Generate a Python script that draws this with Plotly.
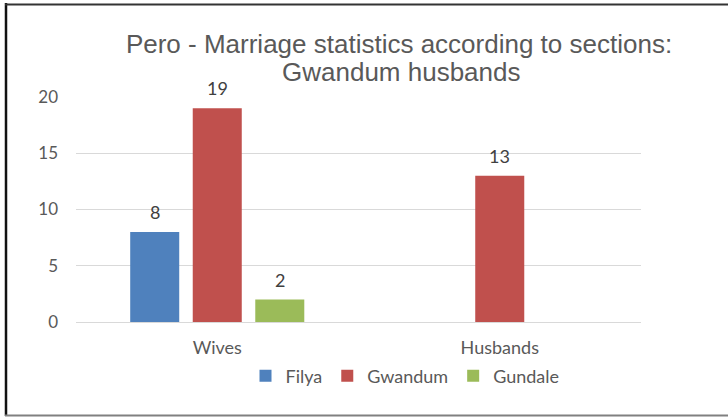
import plotly.graph_objects as go

# Marriage statistics for Pero, split by section
categories = ["Wives", "Husbands"]
series_names = ["Filya", "Gwandum", "Gundale"]
filya = [8, None]
gwandum = [19, 13]
gundale = [2, None]
series_values = [filya, gwandum, gundale]
series_colors = ["#4F81BD", "#C0504D", "#9BBB59"]
y_ticks = [0, 5, 10, 15, 20]

W, H = 728, 417
# plot area in pixels
PL, PR, PT, PB = 76, 641, 97, 322
BARGAP, BARGROUPGAP = 0.336, 0.216

def px_x(px):
    return (px - PL) / (PR - PL)

def px_y(py):
    return (PB - py) / (PB - PT)

fig = go.Figure()
for name, vals, col in zip(series_names, series_values, series_colors):
    fig.add_trace(go.Bar(
        name=name,
        x=categories,
        y=vals,
        marker=dict(color=col, line=dict(width=0)),
    ))

# value labels above each bar, offset to the bar's slot within its group
cat_px = (PR - PL) / len(categories)
slot_px = cat_px * (1 - BARGAP) / len(series_names)
label_font = dict(family="Lato", size=18, color="#404040")
annotations = []
for i, vals in enumerate(series_values):
    shift = (i - (len(series_names) - 1) / 2) * slot_px
    for cat, v in zip(categories, vals):
        if v is None:
            continue
        annotations.append(dict(
            x=cat, y=v, xref="x", yref="y",
            text=str(v), showarrow=False,
            xanchor="center", yanchor="middle",
            xshift=shift, yshift=20,
            font=label_font,
        ))

# second title line
annotations.append(dict(
    text="Gwandum husbands",
    xref="paper", yref="paper",
    x=px_x(401), y=px_y(72),
    xanchor="center", yanchor="middle",
    showarrow=False,
    font=dict(family="Liberation Sans", size=26, color="#595959"),
))

fig.update_layout(
    width=W, height=H,
    margin=dict(l=PL, r=W - PR, t=PT, b=H - PB, pad=0),
    paper_bgcolor="white",
    plot_bgcolor="white",
    barmode="group",
    bargap=BARGAP,
    bargroupgap=BARGROUPGAP,
    title=dict(
        text="Pero - Marriage statistics according to sections:",
        x=399 / W, xref="container", xanchor="center",
        y=1 - 44 / H, yref="container", yanchor="middle",
        font=dict(family="Liberation Sans", size=26, color="#595959"),
    ),
    annotations=annotations,
    showlegend=True,
    legend=dict(
        orientation="h",
        x=px_x(405), xanchor="center",
        y=px_y(376), yanchor="middle",
        font=dict(family="Lato", size=18, color="#595959"),
        itemwidth=30,
        bgcolor="rgba(0,0,0,0)",
    ),
    xaxis=dict(
        showgrid=False,
        showline=False,
        zeroline=False,
        ticks="",
        tickfont=dict(family="Lato", size=18, color="#595959"),
        ticklabelstandoff=13,
    ),
    yaxis=dict(
        range=[0, 20],
        tickvals=y_ticks,
        showgrid=True,
        gridcolor="#D9D9D9",
        gridwidth=1,
        zeroline=True,
        zerolinecolor="#D9D9D9",
        zerolinewidth=1,
        showline=False,
        ticks="",
        tickfont=dict(family="Lato", size=17, color="#595959"),
        ticklabelstandoff=17,
    ),
    shapes=[
        dict(type="line", xref="paper", yref="paper",
             x0=px_x(6), x1=px_x(6), y0=px_y(3), y1=px_y(416),
             line=dict(color="#111111", width=2.5)),
        dict(type="line", xref="paper", yref="paper",
             x0=px_x(5), x1=px_x(730), y0=px_y(4.5), y1=px_y(4.5),
             line=dict(color="#333333", width=2)),
        dict(type="line", xref="paper", yref="paper",
             x0=px_x(5), x1=px_x(730), y0=px_y(415.5), y1=px_y(415.5),
             line=dict(color="#808080", width=2)),
    ],
)

fig.write_html("out.html")
